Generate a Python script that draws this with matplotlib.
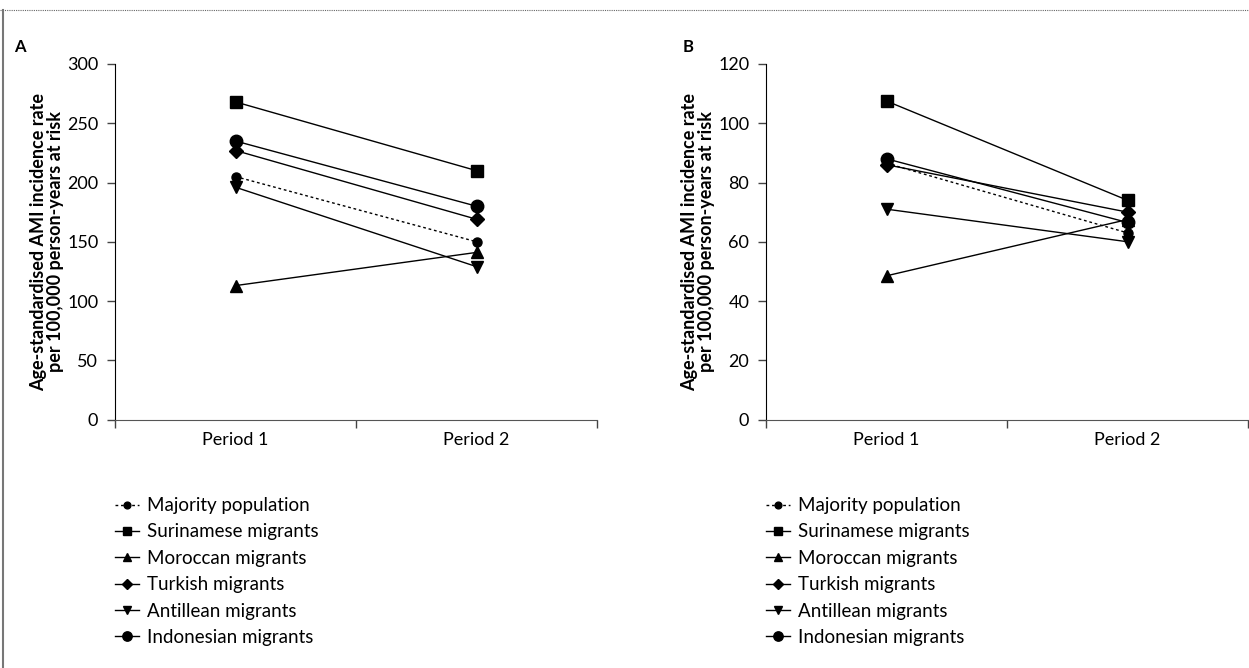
import matplotlib.pyplot as plt
from matplotlib.lines import Line2D

# Categories
periods = ["Period 1", "Period 2"]
groups = ["Majority population", "Surinamese migrants", "Moroccan migrants",
          "Turkish migrants", "Antillean migrants", "Indonesian migrants"]

# Panel A values (age-standardised AMI incidence rate)
majority_a = [205, 150]
surinamese_a = [268, 210]
moroccan_a = [113, 141]
turkish_a = [227, 169]
antillean_a = [196, 129]
indonesian_a = [235, 180]

# Panel B values
majority_b = [86.5, 63]
surinamese_b = [107.5, 74]
moroccan_b = [48.5, 67.5]
turkish_b = [86, 70]
antillean_b = [71, 60]
indonesian_b = [88, 66.5]

# Styles
markers = ["o", "s", "^", "D", "v", "o"]
msizes = [6.5, 8.5, 8, 7, 8, 9]
lstyles = [(0, (2, 2)), "-", "-", "-", "-", "-"]

plt.rcParams['font.family'] = ['Lato', 'DejaVu Sans']

W, H = 1249, 668
fig = plt.figure(figsize=(W / 100, H / 100), dpi=100)

ylabel = "Age-standardised AMI incidence rate\nper 100,000 person-years at risk"


def draw_panel(ax, series, ymax, ystep):
    for vals, m, ms, ls in zip(series, markers, msizes, lstyles):
        ax.plot([0, 1], vals, color="black", lw=1.0, linestyle=ls,
                marker=m, markersize=ms, clip_on=False)
    ax.set_xlim(-0.5, 1.5)
    ax.set_ylim(0, ymax)
    ax.set_yticks(range(0, ymax + 1, ystep))
    ax.set_xticks([-0.5, 0.5, 1.5])
    ax.set_xticklabels([])
    ax.set_xticks([0, 1], minor=True)
    ax.set_xticklabels(periods, minor=True)
    ax.tick_params(axis="x", which="minor", length=0, labelsize=13, pad=9)
    ax.tick_params(axis="x", which="major", length=6, width=1, color="#444")
    ax.tick_params(axis="y", length=6, width=1, labelsize=13, pad=6, color="#444")
    for s in ["top", "right"]:
        ax.spines[s].set_visible(False)
    ax.spines["left"].set_color("black")
    ax.spines["bottom"].set_color("#555")
    ax.set_ylabel(ylabel, fontsize=13, fontweight="bold", labelpad=2,
                  linespacing=1.0)


bottom = 1 - 419.5 / H
height = (419.5 - 64) / H

ax1 = fig.add_axes([115 / W, bottom, 482 / W, height])
draw_panel(ax1, [majority_a, surinamese_a, moroccan_a, turkish_a,
                 antillean_a, indonesian_a], 300, 50)

ax2 = fig.add_axes([766 / W, bottom, 482 / W, height])
draw_panel(ax2, [majority_b, surinamese_b, moroccan_b, turkish_b,
                 antillean_b, indonesian_b], 120, 20)

fig.text(14 / W, 1 - 47 / H, "A", fontsize=12, fontweight="bold", va="center")
fig.text(683 / W, 1 - 47 / H, "B", fontsize=12, fontweight="bold", va="center")

# Legends
handles = [Line2D([], [], color="black", lw=1.0, linestyle=ls, marker=m,
                  markersize=ms * 0.75)
           for m, ms, ls in zip(markers, msizes, lstyles)]
for x0 in [115, 766]:
    fig.legend(handles, groups, loc="center left",
               bbox_to_anchor=(x0 / W, 1 - 571.5 / H), frameon=False,
               fontsize=13.5, handlelength=1.3, handletextpad=0.4,
               labelspacing=0.5, borderpad=0, borderaxespad=0)

# Frame lines
fig.add_artist(Line2D([0, 1], [1 - 10 / H] * 2, color="#666", lw=0.8,
                      linestyle=(0, (1, 1))))
fig.add_artist(Line2D([3 / W] * 2, [0, 1 - 10 / H], color="#777", lw=1.5))

fig.savefig("out.png", dpi=100)
